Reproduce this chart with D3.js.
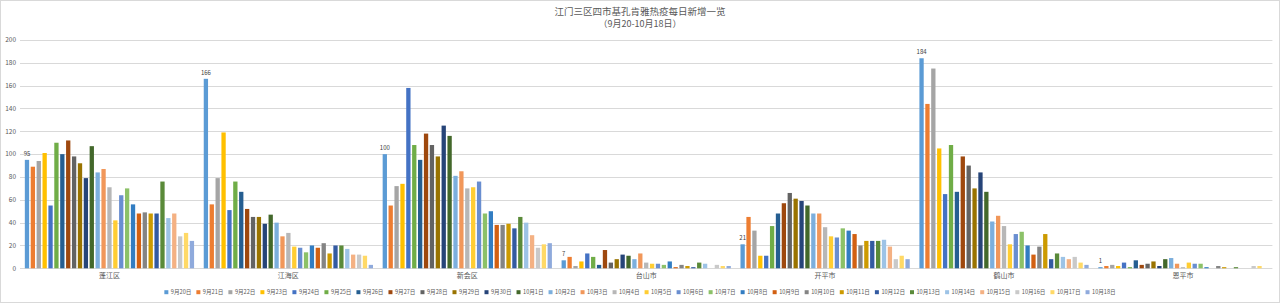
<!DOCTYPE html>
<head>
<meta charset="utf-8">
<title>江门三区四市基孔肯雅热疫每日新增一览</title>
<style>

body {
  margin: 0;
  background: #fff;
}

svg {
  font-family: "Noto Sans CJK SC", "Noto Sans", sans-serif;
}

.grid line {
  stroke: #d9d9d9;
  stroke-width: 1;
}

.tick-label, .cat-label, .legend text {
  fill: #595959;
}

</style>
</head>
<body>

<svg id="chart"></svg>

<script src="https://d3js.org/d3.v7.min.js"></script>
<script>

var width = 1280,
    height = 303;

var districts = ["蓬江区", "江海区", "新会区", "台山市", "开平市", "鹤山市", "恩平市"];

var days = ["9月20日", "9月21日", "9月22日", "9月23日", "9月24日", "9月25日", "9月26日", "9月27日",
  "9月28日", "9月29日", "9月30日", "10月1日", "10月2日", "10月3日", "10月4日", "10月5日", "10月6日",
  "10月7日", "10月8日", "10月9日", "10月10日", "10月11日", "10月12日", "10月13日", "10月14日",
  "10月15日", "10月16日", "10月17日", "10月18日"];

// one row per district, one value per day
var pengjiang = [95, 89, 94, 101, 55, 110, 100, 112, 98, 92, 79, 107, 84, 87, 71, 42, 64, 70, 56, 48, 49, 48, 48, 76, 44, 48, 28, 31, 24];
var jianghai  = [166, 56, 79, 119, 51, 76, 67, 52, 45, 45, 39, 47, 40, 28, 31, 19, 18, 14, 20, 18, 22, 13, 20, 20, 17, 12, 12, 11, 3];
var xinhui    = [100, 55, 72, 74, 158, 108, 95, 118, 108, 98, 125, 116, 81, 85, 70, 71, 76, 48, 50, 38, 38, 39, 35, 45, 40, 29, 18, 21, 22];
var taishan   = [7, 10, 2, 6, 13, 10, 3, 16, 5, 8, 12, 11, 8, 13, 5, 4, 4, 3, 6, 1, 3, 2, 1, 5, 4, 0, 3, 2, 2];
var kaiping   = [21, 45, 33, 11, 11, 37, 48, 57, 66, 61, 59, 55, 48, 48, 36, 28, 27, 35, 33, 30, 20, 24, 24, 24, 25, 19, 8, 11, 8];
var heshan    = [184, 144, 175, 105, 65, 108, 67, 98, 90, 70, 84, 67, 41, 46, 37, 21, 30, 32, 20, 12, 19, 30, 8, 13, 10, 8, 10, 5, 3];
var enping    = [1, 2, 3, 2, 5, 1, 7, 3, 4, 6, 2, 8, 9, 4, 1, 5, 4, 4, 1, 0, 2, 1, 0, 1, 0, 0, 2, 2, 0];

var values = [pengjiang, jianghai, xinhui, taishan, kaiping, heshan, enping];

var yTicks = [0, 20, 40, 60, 80, 100, 120, 140, 160, 180, 200];

var colors = ["#5B9BD5", "#ED7D31", "#A5A5A5", "#FFC000", "#4472C4", "#70AD47", "#255E91", "#9E480E",
  "#636363", "#997300", "#264478", "#43682B", "#7CAFDD", "#F1975A", "#B7B7B7", "#FFCD33", "#698ED0",
  "#8CC168", "#327DC2", "#D26012", "#848484", "#CC9A00", "#335AA1", "#5A8A39", "#9DC3E6", "#F4B183",
  "#C9C9C9", "#FFD966", "#8FAADC"];

var svg = d3.select("#chart")
    .attr("width", width)
    .attr("height", height);

svg.append("rect")
    .attr("x", 0.5).attr("y", 0.5)
    .attr("width", width - 1).attr("height", height - 1)
    .attr("fill", "#fff")
    .attr("stroke", "#d9d9d9");

var x0 = d3.scaleBand()
    .domain(districts)
    .range([20, 1272.4])
    .paddingInner(0.054)
    .paddingOuter(0.027);

var x1 = d3.scaleBand()
    .domain(d3.range(days.length))
    .range([0, x0.bandwidth()])
    .paddingInner(0.27);

var y = d3.scaleLinear()
    .domain([0, 200])
    .range([268.3, 40]);

var color = d3.scaleOrdinal().domain(d3.range(days.length)).range(colors);

// gridlines
svg.append("g")
    .attr("class", "grid")
  .selectAll("line")
  .data(yTicks)
  .enter().append("line")
    .attr("x1", 20)
    .attr("x2", 1272.4)
    .attr("y1", function(d) { return Math.round(y(d)) + 0.5; })
    .attr("y2", function(d) { return Math.round(y(d)) + 0.5; });

svg.append("g")
  .selectAll("text")
  .data(yTicks)
  .enter().append("text")
    .attr("class", "tick-label")
    .attr("x", 16)
    .attr("y", function(d) { return y(d); })
    .attr("dy", "0.35em")
    .attr("text-anchor", "end")
    .attr("font-size", 6.5)
    .text(function(d) { return d; });

// bars
var groups = svg.append("g")
  .selectAll("g")
  .data(districts)
  .enter().append("g")
    .attr("transform", function(d) { return "translate(" + x0(d) + ",0)"; });

groups.selectAll("rect")
  .data(function(d, i) { return values[i].map(function(v, j) { return {i: j, v: v}; }); })
  .enter().append("rect")
    .attr("x", function(d) { return x1(d.i); })
    .attr("y", function(d) { return y(d.v); })
    .attr("width", x1.bandwidth())
    .attr("height", function(d) { return y(0) - y(d.v); })
    .attr("fill", function(d) { return color(d.i); });

// data labels on the first day only
groups.append("text")
    .attr("x", x1(0) + x1.bandwidth() / 2)
    .attr("y", function(d, i) { return y(values[i][0]) - 4; })
    .attr("text-anchor", "middle")
    .attr("font-size", 6)
    .attr("fill", "#404040")
    .text(function(d, i) { return values[i][0]; });

// category labels
svg.append("g")
  .selectAll("text")
  .data(districts)
  .enter().append("text")
    .attr("class", "cat-label")
    .attr("x", function(d) { return x0(d) + x0.bandwidth() / 2; })
    .attr("y", 278)
    .attr("text-anchor", "middle")
    .attr("font-size", 7)
    .text(function(d) { return d; });

// title
svg.append("text")
    .attr("x", width / 2)
    .attr("y", 15)
    .attr("text-anchor", "middle")
    .attr("font-size", 9.5)
    .attr("fill", "#595959")
    .text("江门三区四市基孔肯雅热疫每日新增一览");

svg.append("text")
    .attr("x", width / 2)
    .attr("y", 27)
    .attr("text-anchor", "middle")
    .attr("font-size", 9)
    .attr("fill", "#595959")
    .text("（9月20-10月18日）");

// legend, laid out by measured text width
var legend = svg.append("g").attr("class", "legend");

var items = legend.selectAll("g")
  .data(days)
  .enter().append("g");

items.append("rect")
    .attr("width", 4)
    .attr("height", 4)
    .attr("y", -3.8)
    .attr("fill", function(d, i) { return color(i); });

items.append("text")
    .attr("x", 6.5)
    .attr("y", 0)
    .attr("font-size", 5.6)
    .text(function(d) { return d; });

var pos = 0;
items.each(function() {
  var w = d3.select(this).select("text").node().getComputedTextLength();
  d3.select(this).attr("transform", "translate(" + pos + ",0)");
  pos += 6.5 + w + 5;
});
pos -= 5;

legend.attr("transform", "translate(" + (width / 2 - pos / 2) + ",294)");

</script>
</body>
